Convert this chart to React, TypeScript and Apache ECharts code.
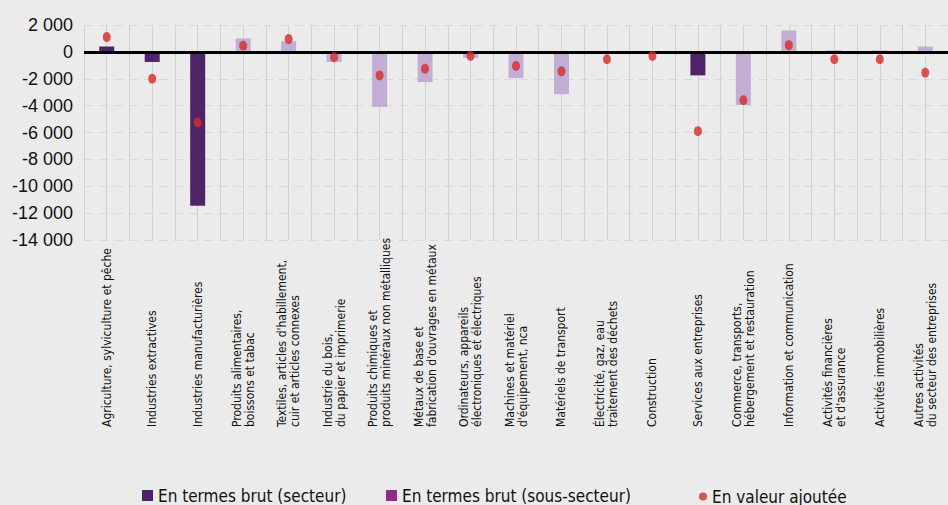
import React, { useEffect, useRef } from "react";
import * as echarts from "echarts";

const categories = [
  "Agriculture, sylviculture et pêche",
  "Industries extractives",
  "Industries manufacturières",
  "Produits alimentaires,\nboissons et tabac",
  "Textiles, articles d'habillement,\ncuir et articles connexes",
  "Industrie du bois,\ndu papier et imprimerie",
  "Produits chimiques et\nproduits minéraux non métalliques",
  "Métaux de base et\nfabrication d'ouvrages en métaux",
  "Ordinateurs, appareils\nélectroniques et électriques",
  "Machines et matériel\nd'équipement, nca",
  "Matériels de transport",
  "Électricité, gaz, eau\ntraitement des déchets",
  "Construction",
  "Services aux entreprises",
  "Commerce, transports,\nhébergement et restauration",
  "Information et communication",
  "Activités financières\net d'assurance",
  "Activités immobilières",
  "Autres activités\ndu secteur des entreprises",
];

const brutSecteur = [400, -750, -11450, null, null, null, null, null, null, null, null, null, null, -1750, null, null, null, null, null];
const brutSousSecteur = [null, null, null, 1000, 800, -750, -4100, -2250, -450, -1950, -3150, null, null, null, -3950, 1600, 120, 120, 400];
const valeurAjoutee = [1100, -2000, -5250, 450, 950, -400, -1750, -1250, -300, -1050, -1450, -550, -300, -5900, -3600, 500, -550, -550, -1550];

const yTicks = { min: -14000, max: 2000, interval: 2000 };

const NAME_SECTEUR = "En termes brut (secteur)";
const NAME_SOUS = "En termes brut (sous-secteur)";
const NAME_VA = "En valeur ajoutée";

const NARROW = "'Liberation Sans Narrow', 'DejaVu Sans Condensed', 'Liberation Sans', sans-serif";
const ELLIPSE = "path://M0,5 A5,5 0 1,1 10,5 A5,5 0 1,1 0,5 Z";

export default function App() {
  const ref = useRef<HTMLDivElement>(null);
  useEffect(() => {
    if (!ref.current) return;
    const chart = echarts.init(ref.current, null, { renderer: "svg" });
    const legendText = { fontSize: 17, fontFamily: NARROW, color: "#111" };
    chart.setOption({
      animation: false,
      backgroundColor: "#ebebeb",
      grid: { left: 84, right: -10, top: 25, bottom: 265, containLabel: false },
      xAxis: [
        {
          type: "category",
          data: categories,
          position: "bottom",
          axisLine: { show: false },
          axisTick: { show: false },
          splitLine: { show: false },
          axisLabel: {
            interval: 0,
            rotate: 90,
            margin: 187,
            align: "left",
            verticalAlign: "middle",
            fontSize: 12,
            lineHeight: 13,
            fontFamily: NARROW,
            color: "#111",
          },
        },
        {
          type: "value",
          min: 0,
          max: categories.length,
          interval: 0.5,
          position: "bottom",
          axisLine: { show: false },
          axisTick: { show: false },
          axisLabel: { show: false },
          splitLine: { show: true, lineStyle: { color: "#d2d2d2", width: 1 } },
        },
      ],
      yAxis: {
        type: "value",
        min: yTicks.min,
        max: yTicks.max,
        interval: yTicks.interval,
        axisLine: { show: false },
        axisTick: { show: false },
        axisLabel: {
          margin: 11,
          fontSize: 18,
          fontFamily: "'Liberation Sans', sans-serif",
          color: "#111",
          formatter: (v: number) => {
            const s = Math.abs(v).toString().replace(/\B(?=(\d{3})+(?!\d))/g, " ");
            return (v < 0 ? "-" : "") + s;
          },
        },
        splitLine: { show: true, lineStyle: { color: "#d9d9d9", type: [9, 6], width: 1 } },
      },
      legend: [
        {
          left: 142, top: 487, padding: 0, itemWidth: 11, itemHeight: 11, icon: "rect",
          data: [NAME_SECTEUR], textStyle: legendText,
        },
        {
          left: 386, top: 487, padding: 0, itemWidth: 11, itemHeight: 11, icon: "rect",
          data: [{ name: NAME_SOUS, itemStyle: { color: "#8e2c8d" } }], textStyle: legendText,
        },
        {
          left: 699, top: 488, padding: 0, itemWidth: 8, itemHeight: 9, icon: ELLIPSE,
          data: [NAME_VA], textStyle: legendText,
        },
      ],
      series: [
        {
          name: NAME_SECTEUR,
          type: "bar",
          xAxisIndex: 0,
          data: brutSecteur,
          barWidth: 15,
          barGap: "-100%",
          itemStyle: { color: "#4e2468" },
          markLine: {
            silent: true,
            symbol: ["none", "none"],
            label: { show: false },
            lineStyle: { color: "#000", width: 3, type: "solid" },
            data: [{ yAxis: 0 }],
            z: 5,
          },
        },
        {
          name: NAME_SOUS,
          type: "bar",
          xAxisIndex: 0,
          data: brutSousSecteur,
          barWidth: 15,
          barGap: "-100%",
          itemStyle: { color: "#c2aed4" },
        },
        {
          name: NAME_VA,
          type: "scatter",
          xAxisIndex: 0,
          data: valeurAjoutee,
          symbol: ELLIPSE,
          symbolSize: [8, 10],
          itemStyle: { color: "#d42a2a" },
          z: 10,
        },
      ],
    });
    return () => chart.dispose();
  }, []);
  return (
    <div
      ref={ref}
      style={{ position: "absolute", left: 0, top: 0, width: 948, height: 505 }}
    />
  );
}
